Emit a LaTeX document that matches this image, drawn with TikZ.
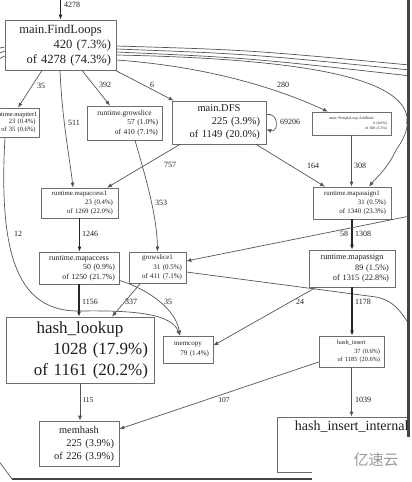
\documentclass[tikz,border=0pt]{standalone}
\usepackage{fontspec}
\setmainfont{Liberation Serif}
\newfontfamily\cjkfont{Noto Sans CJK SC}
\usetikzlibrary{arrows.meta}
\definecolor{boxc}{HTML}{6E6E6E}
\definecolor{edgec}{HTML}{555555}
\definecolor{txtc}{HTML}{1E1E1E}
\definecolor{framec}{HTML}{444444}
\definecolor{markc}{HTML}{9A9A9A}
\tikzset{fn/.style={rectangle,draw=boxc,line width=0.7pt,inner ysep=0pt,align=right,text=txtc},
  fs/.style 2 args={font=\fontsize{#1}{#2}\selectfont},
  line/.style={draw=edgec,line width=0.7pt,-{Latex[length=5pt,width=4pt]}},
  heavy/.style={line,line width=1.1pt,draw=black!85},
  bare/.style={draw=edgec,line width=0.7pt},
  elabel/.style={fs={8}{9},text=txtc,inner sep=0pt}}
\newcommand{\fnbox}[3]{\makebox[\linewidth]{#1}\\#2\\#3}

\begin{document}
\begin{tikzpicture}[x=1pt,y=-1pt]
\useasboundingbox (0,0) rectangle (412,482);
\begin{scope}
\clip (0,0) rectangle (408,482);
% functions
\node[fn,fs={12.5}{15},text width=101pt,inner xsep=5pt,minimum height=50pt] (fl) at (60.5,45) {\fnbox{main.FindLoops}{420 (7.3\%)}{of 4278 (74.3\%)}};
\node[fn,fs={6.5}{7.8},text width=41pt,inner xsep=3.5pt,minimum height=29pt] (mpi) at (15,122.5) {\fnbox{runtime.mapiter1}{23 (0.4\%)}{of 35 (0.6\%)}};
\node[fn,fs={7.5}{9.5},text width=67pt,inner xsep=4pt,minimum height=34pt] (gs) at (124.5,123) {\fnbox{runtime.growslice}{57 (1.0\%)}{of 410 (7.1\%)}};
\node[fn,fs={10.5}{13},text width=82pt,inner xsep=6pt,minimum height=43pt] (dfs) at (219,122.5) {\fnbox{main.DFS}{225 (3.9\%)}{of 1149 (20.0\%)}};
\node[fn,fs={3.8}{5.2},text width=71pt,inner xsep=4pt,minimum height=23pt] (add) at (351.5,123.5) {\fnbox{main.*SimpleLoop.AddNode}{0 (0.0\%)}{of 308 (5.3\%)}};
\node[fn,fs={6.8}{8.8},text width=67pt,inner xsep=5pt,minimum height=30pt] (mpa1) at (79.5,203) {\fnbox{runtime.mapaccess1}{23 (0.4\%)}{of 1269 (22.0\%)}};
\node[fn,fs={7.8}{9.5},text width=72pt,inner xsep=4pt,minimum height=32pt] (mpa) at (79,268) {\fnbox{runtime.mapaccess}{50 (0.9\%)}{of 1250 (21.7\%)}};
\node[fn,fs={7}{9.2},text width=49pt,inner xsep=4pt,minimum height=31pt] (gs1) at (157.5,267.5) {\fnbox{growslice1}{31 (0.5\%)}{of 411 (7.1\%)}};
\node[fn,fs={6.9}{9}, text width=68pt,inner xsep=5pt,minimum height=32pt] (mps1) at (352,203) {\fnbox{runtime.mapassign1}{31 (0.5\%)}{of 1340 (23.3\%)}};
\node[fn,fs={8.3}{10.5},text width=74pt,inner xsep=6pt,minimum height=37pt] (mps) at (352,268.5) {\fnbox{runtime.mapassign}{89 (1.5\%)}{of 1315 (22.8\%)}};
\node[fn,fs={6.3}{8.5},text width=57pt,inner xsep=4pt,minimum height=31pt] (hi) at (351.5,351.5) {\fnbox{hash\_insert}{37 (0.6\%)}{of 1185 (20.6\%)}};
\node[fn,fs={7}{10},text width=42pt,inner xsep=4pt,minimum height=27pt] (memcpy) at (188,349.5) {\makebox[\linewidth]{memcopy}\\79 (1.4\%)};
\node[fn,fs={17}{21},text width=136pt,inner xsep=6pt,minimum height=66pt] (hl) at (80,350) {\fnbox{hash\_lookup}{1028 (17.9\%)}{of 1161 (20.2\%)}};
\node[fn,fs={10.4}{13},text width=70pt,inner xsep=5pt,minimum height=45pt] (mh) at (79,443.5) {\fnbox{memhash}{225 (3.9\%)}{of 226 (3.9\%)}};
\node[fn,minimum width=193pt,minimum height=55pt] (hii) at (373.5,444.5) {};
\node[fs={14}{17},text=txtc,anchor=north west,inner sep=0pt] (hiiname) at ([xshift=18pt,yshift=-4pt]hii.north west) {hash\_insert\_internal};
% free ends
\coordinate (src) at (60.5,-2);
\coordinate (offR1) at (420,66);
\coordinate (offR2) at (420,71);
\coordinate (offR3) at (420,77);
\coordinate (offR4) at (416,336);
\coordinate (inR) at (420,214);
\coordinate (offL1) at (-5,49);
\coordinate (offL2) at (-5,55);
\coordinate (offL3) at (-5,61);
% calls
\draw[heavy,line width=1.4pt] (src) -- (fl);
\draw[line] ([xshift=-18.5pt]fl.south) -- ([xshift=3pt]mpi.north);
\draw[line] ([xshift=21.5pt]fl.south) -- ([xshift=-14.5pt]gs.north);
\draw[line] ([xshift=-1pt]fl.south east) -- ([xshift=2pt]dfs.north west);
\draw[line] ([xshift=-0.5pt]fl.south) .. controls (62,120) and (70,160) .. ([xshift=-6.5pt]mpa1.north);
\draw[line] ([yshift=-15pt]fl.east) .. controls (200,66) and (270,85) .. ([xshift=-23.5pt]add.north);
\draw[line] ([yshift=-10pt]fl.east) .. controls (360,60) and (440,90) .. (396,150) .. controls (388,168) and (376,178) .. ([xshift=17pt]mps1.north);
\draw[bare] ([yshift=-1pt]fl.east) .. controls (250,50) .. (offR1);
\draw[bare] ([yshift=-4pt]fl.east) .. controls (250,54) .. (offR2);
\draw[bare] ([yshift=-7pt]fl.east) .. controls (250,58) .. (offR3);
\draw[bare] ([yshift=-2pt]fl.west) -- (offL1);
\draw[bare] ([yshift=-6pt]fl.west) -- (offL2);
\draw[bare] ([yshift=-11pt]fl.west) -- (offL3);
\draw[line] ([yshift=8pt]dfs.east) .. controls (279,112) and (279,133) .. ([yshift=-7pt]dfs.east);
\draw[line] ([xshift=-39pt]dfs.south) -- ([xshift=27.5pt]mpa1.north);
\draw[line] ([xshift=37pt]dfs.south) -- ([xshift=-27pt]mps1.north);
\draw[line] (add.south) -- (add.south |- mps1.north);
\draw[line] ([xshift=10.5pt]gs.south) .. controls (145,175) and (157,215) .. (gs1.north);
\draw[heavy] (mpa1.south) -- (mpa1.south |- mpa.north);
\draw[heavy] (mps1.south) -- (mps1.south |- mps.north);
\draw[heavy] (mpa.south) -- (mpa.south |- hl.north);
\draw[line] (inR) -- ([yshift=6.5pt]gs1.east);
\draw[bare] ([yshift=-4.5pt]gs1.east) -- (376,297) .. controls (395,301) and (402,312) .. (offR4);
\draw[line] ([xshift=-17pt]gs1.south) -- ([xshift=32pt]hl.north);
\draw[line] ([yshift=4pt]mpa.south east) .. controls (150,290) and (176,310) .. ([xshift=-8pt]memcpy.north);
\draw[line] ([xshift=-10pt]mpi.south) .. controls (-2,260) and (20,312) .. (80,311) .. controls (140,310) and (172,315) .. ([xshift=-8pt]memcpy.north);
\draw[line] ([xshift=-36pt]mps.south) -- ([yshift=4pt]memcpy.east);
\draw[heavy] (mps.south) -- (mps.south |- hi.north);
\draw[line] (hl.south) -- (hl.south |- mh.north);
\draw[line] ([yshift=-10.5pt]hi.west) -- ([yshift=14.5pt]mh.east);
\draw[line] (hi.south) -- (hi.south |- hii.north);
\draw[bare] (-2,460) -- (12,479);
% call counts
\node[elabel] (w4278) at (72,5) {4278};
\node[elabel] (w35a) at (41,86) {35};
\node[elabel] (w392) at (105,85) {392};
\node[elabel] (w6) at (152,85) {6};
\node[elabel] (w511) at (74,123) {511};
\node[elabel] (w280) at (283,85) {280};
\node[elabel] (w69206) at (290,122) {69206};
\node[elabel] (w8) at (408,122) {8};
\node[elabel] (w757) at (170,165) {757};
\node[elabel] (w353) at (161,203) {353};
\node[elabel] (w12) at (18,234) {12};
\node[elabel] (w164) at (313,166) {164};
\node[elabel] (w308) at (360,166) {308};
\node[elabel] (w1246) at (90,234) {1246};
\node[elabel] (w58) at (344,234) {58};
\node[elabel] (w1308) at (363,234) {1308};
\node[elabel] (w1156) at (90,302) {1156};
\node[elabel] (w337) at (131,302) {337};
\node[elabel] (w35b) at (168,302) {35};
\node[elabel] (w24) at (300,302) {24};
\node[elabel] (w1178) at (363,302) {1178};
\node[elabel,fs={7.5}{9}] (w115) at (88,400) {115};
\node[elabel,fs={7.5}{9}] (w107) at (224,400) {107};
\node[elabel] (w1039) at (363,400) {1039};
\end{scope}
% screenshot frame and mark
\draw[framec,line width=2.5pt] (408.5,0) -- (408.5,437);
\draw[framec,line width=2.5pt] (12,479) -- (312,479);
\fill[white] (312,437) rectangle (412,482);
\node[font=\cjkfont\fontsize{15}{17}\selectfont,text=markc] (mark) at (376,460) {亿速云};
\end{tikzpicture}
\end{document}
